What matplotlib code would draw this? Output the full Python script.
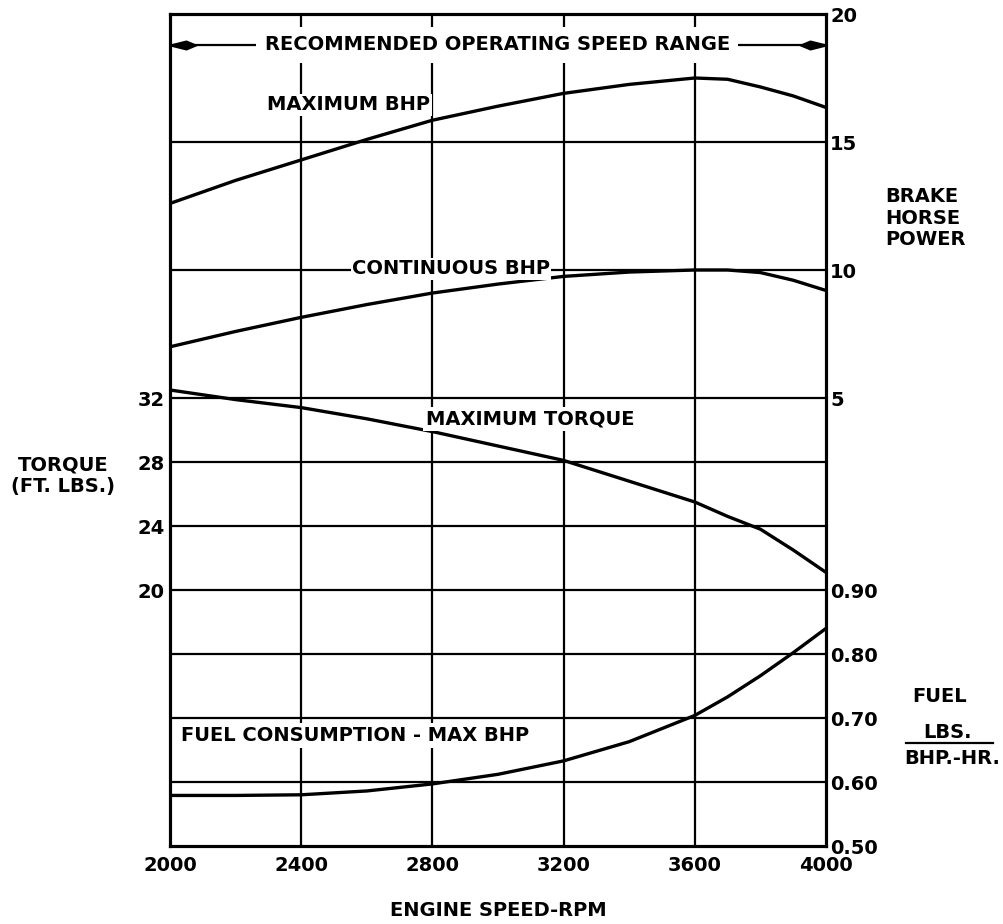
import numpy as np
import matplotlib
matplotlib.use("Agg")
import matplotlib.pyplot as plt
from matplotlib.path import Path

# engine speed (rpm) where each curve was read
rpm = [2000, 2200, 2400, 2600, 2800, 3000, 3200, 3400, 3600, 3700, 3800, 3900, 4000]
max_bhp = [12.6, 13.5, 14.3, 15.1, 15.85, 16.4, 16.9, 17.25, 17.5, 17.45, 17.15, 16.8, 16.35]
cont_bhp = [7.0, 7.6, 8.15, 8.65, 9.1, 9.45, 9.75, 9.92, 10.0, 10.0, 9.9, 9.6, 9.2]
max_torque = [32.5, 31.9, 31.4, 30.7, 29.9, 29.0, 28.1, 26.8, 25.5, 24.6, 23.8, 22.5, 21.1]
fuel = [0.579, 0.579, 0.580, 0.586, 0.597, 0.612, 0.633, 0.663, 0.704, 0.733, 0.766, 0.802, 0.84]

rpm_ticks = [2000, 2400, 2800, 3200, 3600, 4000]
torque_ticks = [20, 24, 28, 32]
bhp_ticks = [5, 10, 15, 20]
fuel_ticks = [0.50, 0.60, 0.70, 0.80, 0.90]

FS = 14
FONT = dict(family="DejaVu Sans", weight="bold", size=FS)
LW = 2.4

fig = plt.figure(figsize=(10.04, 9.24), dpi=100)
ax = fig.add_axes([170 / 1004, 1 - 846 / 924, 656 / 1004, 832 / 924])
ax_b = ax.twinx()
ax_f = ax.twinx()

# the three scales share one grid: torque, bhp and fuel each get their own range
ax.set_xlim(2000, 4000)
ax.set_ylim(4, 56)
ax_b.set_ylim(-12.5, 20)
ax_f.set_ylim(0.5, 1.8)

for a in (ax, ax_b, ax_f):
    a.patch.set_visible(False)
    for s in a.spines.values():
        s.set_linewidth(2.2)
    a.tick_params(length=0)

ax.set_xticks(rpm_ticks)
ax.set_xticklabels([str(v) for v in rpm_ticks], fontweight="bold", fontsize=FS)
ax.tick_params(axis="x", pad=7)
ax.set_yticks(torque_ticks)
ax.set_yticklabels([str(v) for v in torque_ticks], fontweight="bold", fontsize=FS)
ax.tick_params(axis="y", pad=4)
ax_b.set_yticks(bhp_ticks)
ax_b.set_yticklabels([str(v) for v in bhp_ticks], fontweight="bold", fontsize=FS)
ax_b.tick_params(axis="y", pad=3)
ax_f.set_yticks(fuel_ticks)
ax_f.set_yticklabels(["%.2f" % v for v in fuel_ticks], fontweight="bold", fontsize=FS)
ax_f.tick_params(axis="y", pad=3)

# grid lines
for v in rpm_ticks[1:-1]:
    ax.axvline(v, color="black", lw=1.6, zorder=1)
for v in torque_ticks[1:]:
    ax.axhline(v, color="black", lw=1.6, zorder=1)
for v in bhp_ticks[1:3]:
    ax_b.axhline(v, color="black", lw=1.6, zorder=1)
for v in fuel_ticks[1:]:
    ax_f.axhline(v, color="black", lw=1.6, zorder=1)

# curves
ax.plot(rpm, max_torque, color="black", lw=LW, zorder=3)
ax_b.plot(rpm, max_bhp, color="black", lw=LW, zorder=3)
ax_b.plot(rpm, cont_bhp, color="black", lw=LW, zorder=3)
ax_f.plot(rpm, fuel, color="black", lw=LW, zorder=3)

box = dict(facecolor="white", edgecolor="none", pad=2)
ax_f.text(2545, 16.45, "MAXIMUM BHP", transform=ax_b.transData, ha="center", va="center",
          bbox=dict(facecolor="white", edgecolor="none", pad=1), zorder=5, **FONT)
ax_f.text(2857, 10.05, "CONTINUOUS BHP", transform=ax_b.transData, ha="center", va="center",
          bbox=dict(facecolor="white", edgecolor="none", pad=1), zorder=5, **FONT)
ax_f.text(3098, 30.7, "MAXIMUM TORQUE", transform=ax.transData, ha="center", va="center",
          bbox=box, zorder=5, **FONT)
ax_f.text(2034, 0.673, "FUEL CONSUMPTION - MAX BHP", ha="left", va="center",
          bbox=box, zorder=5, **FONT)

# recommended operating speed range arrow
y_arr = 18.8
ax_f.plot([2000, 4000], [y_arr, y_arr], color="black", lw=1.6, transform=ax_b.transData, zorder=4)
head = Path([(-1, 0), (0, 0.25), (0.6, 0), (0, -0.25), (-1, 0)],
            [Path.MOVETO, Path.LINETO, Path.LINETO, Path.LINETO, Path.CLOSEPOLY])
head_r = Path([(1, 0), (0, 0.25), (-0.6, 0), (0, -0.25), (1, 0)],
              [Path.MOVETO, Path.LINETO, Path.LINETO, Path.LINETO, Path.CLOSEPOLY])
ax_f.plot([2050], [y_arr], marker=head, ms=25, color="black", transform=ax_b.transData, zorder=6)
ax_f.plot([3950], [y_arr], marker=head_r, ms=25, color="black", transform=ax_b.transData, zorder=6)
ax_f.text(2998, y_arr, "RECOMMENDED OPERATING SPEED RANGE", transform=ax_b.transData,
          ha="center", va="center", bbox=dict(facecolor="white", edgecolor="none", pad=6),
          zorder=5, **FONT)

# outside axis titles
fig.text(63 / 1004, 1 - 476 / 924, "TORQUE\n(FT. LBS.)", ha="center", va="center",
         linespacing=1.15, **FONT)
fig.text(885 / 1004, 1 - 218 / 924, "BRAKE\nHORSE\nPOWER", ha="left", va="center",
         linespacing=1.15, **FONT)
fig.text(940 / 1004, 1 - 696 / 924, "FUEL", ha="center", va="center", **FONT)
fig.text(948 / 1004, 1 - 732 / 924, "LBS.", ha="center", va="center", **FONT)
fig.add_artist(plt.Line2D([906 / 1004, 993 / 1004], [1 - 743 / 924, 1 - 743 / 924],
                          color="black", lw=1.6))
fig.text(952 / 1004, 1 - 759 / 924, "BHP.-HR.", ha="center", va="center", **FONT)
fig.text(498 / 1004, 1 - 911 / 924, "ENGINE SPEED-RPM", ha="center", va="center", **FONT)

fig.savefig("out.png", dpi=100, facecolor="white")
